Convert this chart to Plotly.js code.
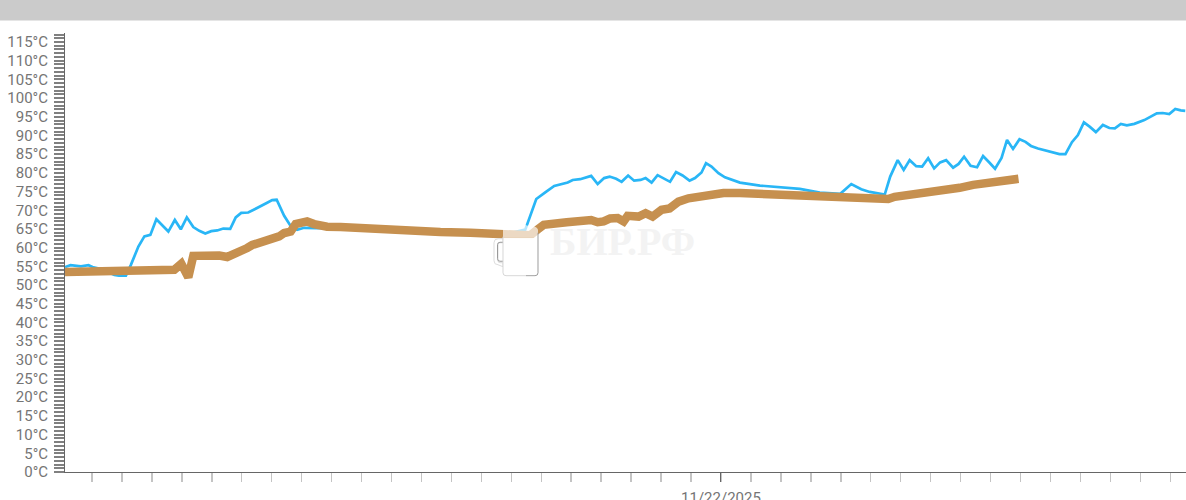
<!DOCTYPE html>
<html><head><meta charset="utf-8">
<script src="https://cdn.plot.ly/plotly-3.0.1.min.js"></script>
<style>html,body{margin:0;padding:0;background:#fff;overflow:hidden}#c{width:1186px;height:500px}</style>
</head><body><div id="c"></div>
<script>
// minutes relative to 2025-11-22 00:00
const blueMinutes = [-1314,-1303,-1282,-1267,-1259,-1242,-1215,-1206,-1192,-1182,-1167,-1155,-1143,-1131,-1107,-1094,-1082,-1070,-1057,-1045,-1033,-1021,-1009,-997,-983,-972,-961,-947,-935,-922,-909,-899,-890,-875,-862,-849,-835,-809,-762,-642,-432,-392,-370,-352,-334,-307,-297,-282,-260,-247,-234,-223,-210,-199,-186,-174,-161,-151,-139,-127,-115,-102,-90,-77,-63,-52,-39,-30,-19,-5,8,25,38,78,158,198,225,239,261,281,298,328,339,354,366,378,391,403,415,427,439,451,465,476,487,500,513,525,538,549,562,573,585,598,610,621,635,661,678,690,703,715,727,739,751,765,778,789,801,813,828,848,873,885,898,910,921,930];
const blueTemps = [54.8,55.3,55.0,55.3,54.8,54.3,52.7,52.5,52.5,55.4,60.3,63.0,63.4,67.6,64.3,67.4,64.9,68.1,65.5,64.5,63.8,64.4,64.6,65.1,65.0,68.1,69.3,69.4,70.2,71.0,72.0,72.7,72.8,68.5,65.8,64.8,65.3,65.2,65.4,64.6,63.6,64.8,73.0,74.8,76.5,77.4,78.1,78.3,79.2,77.0,78.6,79.0,78.4,77.6,79.3,77.9,78.1,78.6,77.4,79.4,78.6,77.6,80.2,79.3,77.9,78.6,80.1,82.6,81.7,79.9,78.8,77.9,77.4,76.6,75.7,74.7,74.6,74.4,77.0,75.6,74.9,74.2,79.0,83.4,80.8,83.4,81.8,81.7,83.9,81.2,82.8,83.4,81.4,82.4,84.3,81.9,81.5,84.5,82.7,81.1,84.0,88.8,86.4,89.0,88.3,87.2,86.5,85.5,85.0,85.0,88.2,90.1,93.5,92.3,90.9,92.8,92.0,91.9,93.1,92.7,93.1,94.1,95.9,96.0,95.7,97.1,96.7,96.6];
const brownMinutes = [-1314,-1275,-1229,-1189,-1145,-1095,-1081,-1067,-1057,-1022,-1005,-989,-969,-949,-939,-905,-895,-885,-875,-862,-852,-829,-815,-789,-762,-702,-642,-562,-502,-432,-382,-367,-355,-309,-260,-247,-235,-222,-207,-195,-187,-165,-151,-137,-119,-103,-85,-65,-39,-19,5,38,78,158,198,251,291,335,348,418,478,505,545,581,596];
const brownTemps = [53.5,53.6,54.1,54.2,53.8,54.1,55.7,52.1,57.8,58.1,57.9,57.5,58.5,59.9,60.7,61.8,62.1,63.0,63.9,64.3,66.3,67.0,66.3,65.6,65.5,65.0,64.6,64.2,64.0,63.6,63.3,64.9,66.1,66.8,67.4,66.8,67.0,67.8,67.9,67.0,68.5,68.3,69.2,68.3,70.1,70.5,72.3,73.2,73.6,74.3,74.6,74.6,74.4,73.8,73.6,73.5,73.4,73.0,73.6,74.7,76.0,76.8,77.5,78.0,78.4];
const xTickDates = ['2025-11-22'];
const xTickLabels = ['11/22/2025'];
const watermarkText = 'БИР.РФ';

const MID = Date.UTC(2025,10,22);
const toMs = m => MID + m*60000;
const W=1186,H=500,L=65,R=0,T=33,B=27.5,PW=W-L-R,PH=H-T-B;
const fx = px => (px-L)/PW;
const fy = py => (H-B-py)/PH;

const mug = `<svg xmlns="http://www.w3.org/2000/svg" width="50" height="56" viewBox="0 0 50 56">
<path d="M10 18H5a4 4 0 0 0-4 4v18a4 4 0 0 0 4 4l5 2v-4H7a2 2 0 0 1-2-2V24a2 2 0 0 1 2-2h3z" fill="#fff" stroke="#dcdcdc" stroke-width="1"/>
<path d="M10 21.500H7a2.500 2.500 0 0 0-2.500 2.500v14a2.500 2.500 0 0 0 2.500 2.500h3" fill="none" stroke="#9a9a9a" stroke-width="1"/>
<path d="M10 17v35a3 3 0 0 0 3 3h29a3 3 0 0 0 3-3V17z" fill="#fff" fill-opacity=".97"/>
<path d="M10 7c3-3 8-3 11-2 4-3 10-3 13 0 5-1 10 1 11 4v8H10z" fill="#fff" fill-opacity=".66"/>
<path d="M10 16v36a3 3 0 0 0 3 3h20" fill="none" stroke="#d6d6d6" stroke-width="1"/>
<path d="M45 12v40a3 3 0 0 1-3 3h-9" fill="none" stroke="#9c9c9c" stroke-width="1"/>
</svg>`;
const svgUri = s => 'data:image/svg+xml;base64,'+btoa(s);

Plotly.newPlot('c',[
 {x:blueMinutes.map(toMs),y:blueTemps,type:'scatter',mode:'lines',line:{color:'#29b6f6',width:2.7,shape:'linear'},hoverinfo:'skip'},
 {x:brownMinutes.map(toMs),y:brownTemps,type:'scatter',mode:'lines',line:{color:'#c6904f',width:8.5,shape:'linear'},hoverinfo:'skip'}
],{
 width:W,height:H,margin:{l:L,r:R,t:T,b:B,pad:0},showlegend:false,
 paper_bgcolor:'#fff',plot_bgcolor:'#fff',
 font:{family:'Roboto, sans-serif',size:15,color:'#757575'},
 xaxis:{type:'date',range:[toMs(-1314),toMs(931.5)],showgrid:false,zeroline:false,showline:true,linecolor:'#666',linewidth:1,
   tickmode:'array',tickvals:xTickDates,ticktext:xTickLabels,ticks:'outside',ticklen:9,tickcolor:'#666',tickwidth:1,ticklabelstandoff:3,
   tickangle:0,tickfont:{family:'Roboto, sans-serif',size:15,color:'#757575'},
   minor:{dtick:3600000,tick0:'2025-11-22',ticks:'outside',ticklen:9,tickcolor:'#c4c4c4',tickwidth:1.5,showgrid:false}},
 yaxis:{range:[0,117.4],showgrid:false,zeroline:false,showline:true,linecolor:'#666',linewidth:1,
   tickmode:'linear',tick0:0,dtick:5,ticksuffix:'°C',ticks:'outside',ticklen:10,tickcolor:'#808080',tickwidth:2,ticklabelstandoff:3,
   tickfont:{family:'Roboto, sans-serif',size:15,color:'#757575'},
   minor:{dtick:1,tick0:0,ticks:'outside',ticklen:10,tickcolor:'#808080',tickwidth:2,showgrid:false}},
 shapes:[{type:'rect',xref:'paper',yref:'paper',x0:fx(0),x1:1,y0:fy(20.5),y1:fy(0),fillcolor:'#cbcbcb',line:{width:0},layer:'above'}],
 images:[
  {source:svgUri(mug),xref:'paper',yref:'paper',x:fx(493),y:fy(221),sizex:50/PW,sizey:56/PH,xanchor:'left',yanchor:'top',sizing:'stretch',layer:'above'}
 ],
 annotations:[{xref:'paper',yref:'paper',x:fx(622),y:fy(242),xanchor:'center',yanchor:'middle',showarrow:false,text:'<b>'+watermarkText+'</b>',
   font:{family:'"Liberation Serif", serif',size:40,color:'#f3f3f3'}}]
},{displayModeBar:false,staticPlot:true});
</script></body></html>
